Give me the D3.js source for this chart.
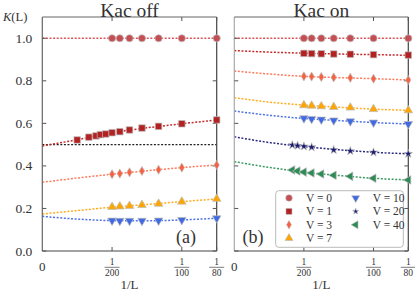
<!DOCTYPE html>
<html><head><meta charset="utf-8">
<script src="https://cdn.jsdelivr.net/npm/d3@7"></script>
<style>body{margin:0;background:#fff}svg{display:block}text{font-family:"Liberation Serif","Times New Roman",serif;fill:#333}</style>
</head><body><svg id="c" width="415" height="295"></svg>
<script>
// ---- data ----
const seriesNames = ["V = 0","V = 1","V = 3","V = 7","V = 10","V = 20","V = 40"];
const seriesColors = ["#c44e52","#b22222","#f8603f","#ffa500","#4169e1","#191970","#2e8b57"];
const seriesLineColors = ["#d9555a","#c42a2a","#ff7a5c","#ffad1f","#4d73e6","#2a2a80","#3a9962"];
const seriesShapes = ["circle","square","diamond","triUp","triDown","star","triLeft"];

const L7 = [200,180,160,140,120,100,80];
// panel (a): Kac off
const offL = {0:L7, 1:[400,300,260,240,220,200,180,160,140,120,100,80], 3:L7, 7:L7, 10:L7};
const offK0 = [1,1,1,1,1,1,1];
const offK1 = [0.522,0.535,0.541,0.547,0.550,0.556,0.561,0.569,0.578,0.586,0.598,0.616];
const offK3 = [0.361,0.364,0.370,0.376,0.382,0.392,0.404];
const offK7 = [0.207,0.209,0.212,0.216,0.222,0.232,0.245];
const offK10 = [0.143,0.142,0.142,0.142,0.143,0.146,0.154];
// fit curves (a), read at 1/L = fitX
const fitX = [0,0.0025,0.005,0.0075,0.01,0.0125];
const offFit0 = [1,1,1,1,1,1];
const offFit1 = [0.494,0.523,0.556,0.579,0.598,0.616];
const offFit3 = [0.323,0.343,0.361,0.377,0.392,0.404];
const offFit7 = [0.174,0.190,0.206,0.219,0.232,0.245];
const offFit10 = [0.163,0.150,0.143,0.142,0.146,0.154];
const offRef = 0.5;

// panel (b): Kac on
const onL20 = [240,220,200,180,140,120,100,80];
const onL40 = [240,220,200,180,160,140,120,100,80];
const onK0 = [1,1,1,1,1,1,1];
const onK1 = [0.929,0.928,0.927,0.926,0.925,0.923,0.921];
const onK3 = [0.821,0.820,0.818,0.816,0.814,0.810,0.804];
const onK7 = [0.685,0.683,0.680,0.677,0.674,0.667,0.661];
const onK10 = [0.624,0.621,0.618,0.614,0.610,0.604,0.597];
const onK20 = [0.498,0.495,0.492,0.488,0.475,0.470,0.464,0.457];
const onK40 = [0.381,0.376,0.371,0.367,0.362,0.356,0.351,0.342,0.334];
const onFit0 = [1,1,1,1,1,1];
const onFit1 = [0.942,0.935,0.930,0.926,0.923,0.920];
const onFit3 = [0.846,0.832,0.821,0.815,0.810,0.804];
const onFit7 = [0.721,0.700,0.686,0.676,0.667,0.661];
const onFit10 = [0.658,0.638,0.623,0.613,0.604,0.597];
const onFit20 = [0.537,0.510,0.491,0.476,0.464,0.457];
const onFit40 = [0.420,0.393,0.371,0.355,0.342,0.334];

const yTicks = [0.0,0.2,0.4,0.6,0.8,1.0];
const xTickDen = [200,100,80];
const titles = ["Kac off","Kac on"];
const panelTags = ["(a)","(b)"];

// ---- drawing ----
const svg = d3.select("#c");
const plotTop = 17, plotBottom = 251;
const y = d3.scaleLinear().domain([0,1.1]).range([plotBottom, plotTop]);

function shapePath(kind, legend){
  const s = {circle:[d3.symbolCircle,40],square:[d3.symbolSquare,42],diamond:[d3.symbolDiamond,24],
             triUp:[d3.symbolTriangle,32],triDown:[d3.symbolTriangle,32],triLeft:[d3.symbolTriangle,32],star:[d3.symbolStar,legend?14:22]}[kind];
  return d3.symbol().type(s[0]).size(legend?s[1]*0.85:s[1])();
}
function rot(kind){ return kind==="triDown"?180:(kind==="triLeft"?-90:0); }

function drawPanel(x0, x1, leftLabels, frameLeft, series, ref, idx){
  const x = d3.scaleLinear().domain([0,1/80]).range([x0,x1]);
  const g = svg.append("g");
  const line = d3.line().x(d=>x(d[0])).y(d=>y(d[1])).curve(d3.curveMonotoneX);
  if(ref!==null){
    g.append("path").attr("d", line([[0,ref],[1/80,ref]])).attr("fill","none")
     .attr("stroke","#222").attr("stroke-width",1.4).attr("stroke-dasharray","2 1.6");
  }
  series.forEach(s=>{
    g.append("path").attr("d", line(fitX.map((v,i)=>[v,s.fit[i]]))).attr("fill","none")
     .attr("stroke", seriesLineColors[s.k]).attr("stroke-width",1.5).attr("stroke-dasharray","2 1.6");
  });
  const f = g.append("g");
  f.append("line").attr("x1",x0).attr("x2",x0).attr("y1",plotTop).attr("y2",plotBottom).attr("stroke",frameLeft).attr("stroke-width",1.2);
  f.append("line").attr("x1",x1).attr("x2",x1).attr("y1",plotTop).attr("y2",plotBottom).attr("stroke","#444").attr("stroke-width",1.2);
  f.append("line").attr("x1",x0).attr("x2",x1).attr("y1",plotBottom).attr("y2",plotBottom).attr("stroke","#444").attr("stroke-width",1.2);
  f.append("line").attr("x1",x0).attr("x2",x1).attr("y1",plotTop).attr("y2",plotTop).attr("stroke","#666").attr("stroke-width",1.2);
  yTicks.forEach(t=>{
    f.append("line").attr("x1",x0).attr("x2",x0+4).attr("y1",y(t)).attr("y2",y(t)).attr("stroke","#555");
    f.append("line").attr("x1",x1-4).attr("x2",x1).attr("y1",y(t)).attr("y2",y(t)).attr("stroke","#555");
    if(leftLabels){
      g.append("text").attr("x",x0-10).attr("y",y(t)+4.5).attr("text-anchor","end").attr("font-size",13.5).text(t.toFixed(1));
    }
  });
  xTickDen.forEach(d=>{
    f.append("line").attr("x1",x(1/d)).attr("x2",x(1/d)).attr("y1",plotBottom).attr("y2",plotBottom-4).attr("stroke","#555");
    f.append("line").attr("x1",x(1/d)).attr("x2",x(1/d)).attr("y1",plotTop).attr("y2",plotTop+4).attr("stroke","#555");
    const tx = x(1/d);
    g.append("text").attr("x",tx).attr("y",265).attr("text-anchor","middle").attr("font-size",9.5).text("1");
    g.append("line").attr("x1",tx-7.5).attr("x2",tx+7.5).attr("y1",267.3).attr("y2",267.3).attr("stroke","#444").attr("stroke-width",0.7);
    g.append("text").attr("x",tx).attr("y",275.5).attr("text-anchor","middle").attr("font-size",9.5).text(String(d));
  });
  g.append("text").attr("x",x0).attr("y",271).attr("text-anchor","middle").attr("font-size",13).text("0");
  g.append("text").attr("x",(x0+x1)/2).attr("y",289).attr("text-anchor","middle").attr("font-size",13).text("1/L");
  g.append("text").attr("x",(x0+x1)/2).attr("y",16.5).attr("text-anchor","middle").attr("font-size",19.5).attr("fill","#222").text(titles[idx]);
  series.forEach(s=>{
    s.L.forEach((L,i)=>{
      g.append("path").attr("d",shapePath(seriesShapes[s.k]))
       .attr("transform",`translate(${x(1/L)},${y(s.v[i])}) rotate(${rot(seriesShapes[s.k])})`)
       .attr("fill",seriesColors[s.k]).attr("stroke","#bbb").attr("stroke-width",0.7);
    });
  });
  return {g,x};
}

const pa = drawPanel(42.3, 216.7, true, "#666", [
  {k:0,L:offL[0],v:offK0,fit:offFit0},
  {k:1,L:offL[1],v:offK1,fit:offFit1},
  {k:2,L:offL[3],v:offK3,fit:offFit3},
  {k:3,L:offL[7],v:offK7,fit:offFit7},
  {k:4,L:offL[10],v:offK10,fit:offFit10}], offRef, 0);
pa.g.append("text").attr("x",186).attr("y",243).attr("text-anchor","middle").attr("font-size",18).text(panelTags[0]);

const pb = drawPanel(234.3, 408.3, false, "#aaa", [
  {k:0,L:L7,v:onK0,fit:onFit0},
  {k:1,L:L7,v:onK1,fit:onFit1},
  {k:2,L:L7,v:onK3,fit:onFit3},
  {k:3,L:L7,v:onK7,fit:onFit7},
  {k:4,L:L7,v:onK10,fit:onFit10},
  {k:5,L:onL20,v:onK20,fit:onFit20},
  {k:6,L:onL40,v:onK40,fit:onFit40}], null, 1);

const lg = svg.append("g");
lg.append("rect").attr("x",275.7).attr("y",190.7).attr("width",127.6).attr("height",56.6).attr("rx",3)
  .attr("fill","#fff").attr("fill-opacity",0.9).attr("stroke","#bbb").attr("stroke-width",1);
seriesNames.forEach((n,i)=>{
  const col = i<4?0:1, row = i<4?i:i-4;
  const mx = col===0?289:355.7, ty = 198 + row*13.4;
  lg.append("path").attr("d",shapePath(seriesShapes[i], true))
    .attr("transform",`translate(${mx},${ty}) rotate(${rot(seriesShapes[i])})`)
    .attr("fill",seriesColors[i]).attr("stroke","#bbb").attr("stroke-width",0.6);
  lg.append("text").attr("x",mx+17).attr("y",ty+4).attr("font-size",11.5).text(n);
});
pb.g.append("text").attr("x",253).attr("y",243).attr("text-anchor","middle").attr("font-size",18).text(panelTags[1]);

const yl = svg.append("text").attr("x",3).attr("y",20.5).attr("font-size",12.5);
yl.append("tspan").attr("font-style","italic").text("K");
yl.append("tspan").text("(L)");
</script></body></html>
